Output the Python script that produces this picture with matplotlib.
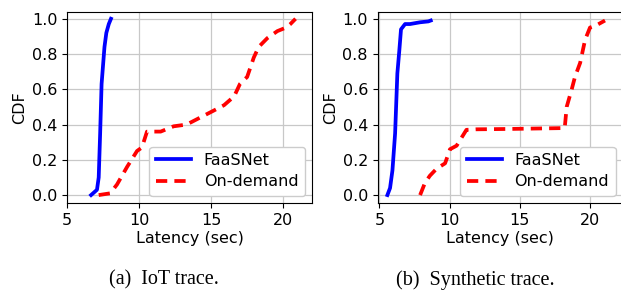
import matplotlib
matplotlib.use("Agg")
import matplotlib.pyplot as plt

# IoT trace
iot_faas_x = [6.67, 7.08, 7.2, 7.3, 7.4, 7.6, 7.73, 7.9, 8.05]
iot_faas_y = [0.0, 0.03, 0.1, 0.35, 0.63, 0.84, 0.92, 0.97, 1.0]
iot_od_x = [7.2, 8.0, 8.47, 9.17, 9.86, 10.2, 10.55, 11.5, 12.4, 13.3, 14.25, 15.2, 15.9,
            16.6, 17.0, 17.5, 17.96, 18.3, 18.9, 19.6, 20.2, 20.5, 20.86]
iot_od_y = [0.0, 0.01, 0.06, 0.16, 0.25, 0.27, 0.36, 0.36, 0.39, 0.40, 0.44, 0.48, 0.51,
            0.56, 0.63, 0.67, 0.78, 0.84, 0.89, 0.93, 0.95, 0.97, 1.0]

# Synthetic trace
syn_faas_x = [5.57, 5.76, 5.93, 6.12, 6.28, 6.42, 6.54, 6.83, 7.18, 7.9, 8.49, 8.66]
syn_faas_y = [0.0, 0.04, 0.14, 0.35, 0.69, 0.82, 0.94, 0.97, 0.97, 0.98, 0.985, 0.99]
syn_od_x = [7.9, 8.25, 8.6, 9.08, 9.68, 10.03, 10.5, 11.2, 11.9, 14.3, 18.2, 18.34, 18.7,
            18.93, 19.3, 19.65, 20.0, 20.5, 21.07]
syn_od_y = [0.0, 0.07, 0.11, 0.15, 0.18, 0.26, 0.28, 0.37, 0.373, 0.375, 0.38, 0.5, 0.6,
            0.67, 0.75, 0.88, 0.95, 0.965, 0.99]

xticks = [5, 10, 15, 20]
yticks = [0.0, 0.2, 0.4, 0.6, 0.8, 1.0]
captions = ["(a)  IoT trace.", "(b)  Synthetic trace."]

W, H = 621, 291
fig = plt.figure(figsize=(W / 100, H / 100), dpi=100)

ax_w = 245 / W
ax_b = 1 - 203 / H
ax_h = (203 - 11.7) / H
axes = [fig.add_axes([67 / W, ax_b, ax_w, ax_h]),
        fig.add_axes([377.7 / W, ax_b, ax_w, ax_h])]
xlims = [(5, 22.0), (4.88, 22.33)]
data = [(iot_faas_x, iot_faas_y, iot_od_x, iot_od_y),
        (syn_faas_x, syn_faas_y, syn_od_x, syn_od_y)]

for ax, (fx, fy, ox, oy), xl in zip(axes, data, xlims):
    ax.plot(fx, fy, color="blue", lw=2.7, label="FaaSNet")
    ax.plot(ox, oy, color="red", lw=2.7, ls=(0, (3.0, 1.9)), label="On-demand")
    ax.set_xlim(*xl)
    ax.set_ylim(-0.045, 1.04)
    ax.set_xticks(xticks)
    ax.set_yticks(yticks)
    ax.tick_params(labelsize=11.5)
    ax.grid(True, color="#c8c8c8", lw=0.9)
    ax.set_axisbelow(True)
    ax.set_xlabel("Latency (sec)", fontsize=11.5, labelpad=2)
    ax.set_ylabel("CDF", fontsize=11.5, labelpad=3)
    ax.legend(loc="lower right", fontsize=11.5, handlelength=2.2, framealpha=1,
              borderaxespad=0.45, fancybox=True, borderpad=0.4, labelspacing=0.4)

fig.text(164 / W, 1 - 284.5 / H, captions[0], ha="center", va="baseline",
         family="Liberation Serif", fontsize=14.5)
fig.text(475 / W, 1 - 284.5 / H, captions[1], ha="center", va="baseline",
         family="Liberation Serif", fontsize=14.5)

fig.savefig("out.png", dpi=100)
